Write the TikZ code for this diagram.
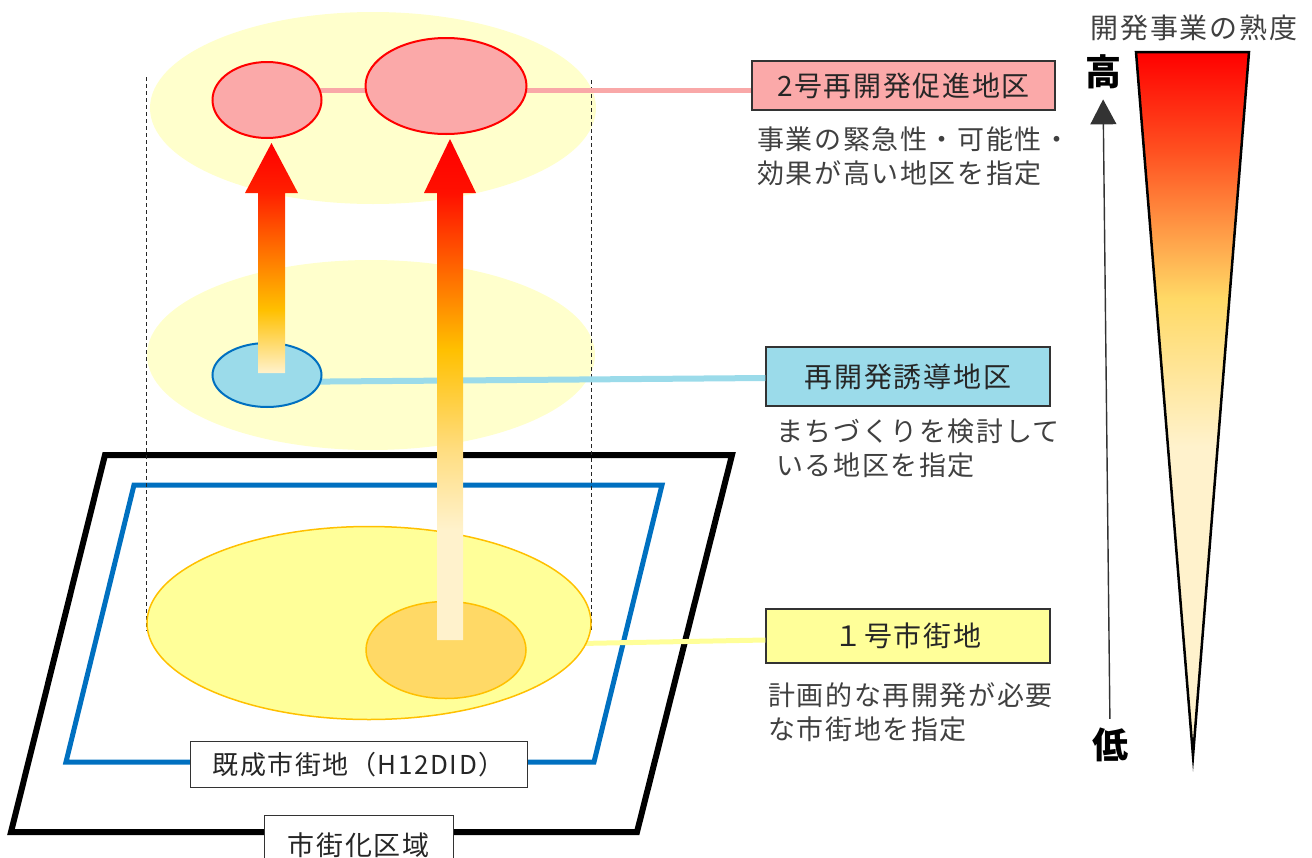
\documentclass[tikz,border=0pt]{standalone}
\usepackage{fontspec}
\setmainfont{Noto Sans CJK JP}[LetterSpace=6]
\usetikzlibrary{shapes.geometric,arrows.meta}
\definecolor{paleY}{HTML}{FFFFCC}
\definecolor{pinkF}{HTML}{FBA9A9}
\definecolor{pinkL}{HTML}{F9A8A8}
\definecolor{blueF}{HTML}{9BDBEA}
\definecolor{blueS}{HTML}{0070C0}
\definecolor{yelF}{HTML}{FFFF99}
\definecolor{orF}{HTML}{FFD966}
\definecolor{orS}{HTML}{FFC000}
\definecolor{cream}{HTML}{FFF2CC}
\definecolor{gold}{HTML}{FFC000}
\definecolor{orng}{HTML}{FF7000}
\definecolor{redA}{HTML}{FF2000}
\definecolor{redB}{HTML}{FF1000}
\definecolor{redC}{HTML}{FF5000}
\definecolor{lgold}{HTML}{FFDD80}
\definecolor{tri1}{HTML}{FF5020}
\definecolor{txtgray}{HTML}{404040}
\definecolor{txtdark}{HTML}{262626}
\definecolor{boxline}{HTML}{333333}
\pgfdeclareverticalshading{arrowL}{100bp}{color(0bp)=(cream); color(25bp)=(cream); color(38.7bp)=(gold); color(51.7bp)=(orng); color(64.2bp)=(redA); color(75bp)=(red); color(100bp)=(red)}
\pgfdeclareverticalshading{arrowR}{100bp}{color(0bp)=(cream); color(25bp)=(cream); color(36bp)=(cream); color(44bp)=(lgold); color(54bp)=(gold); color(64bp)=(redC); color(69.6bp)=(redB); color(75bp)=(red); color(100bp)=(red)}
\pgfdeclareverticalshading{triS}{100bp}{color(0bp)=(cream); color(25bp)=(cream); color(47bp)=(cream); color(57.5bp)=(orF); color(68bp)=(tri1); color(75bp)=(red); color(100bp)=(red)}
\tikzset{
  zone/.style={ellipse, inner sep=0, draw=none, fill=paleY},
  area/.style={ellipse, inner sep=0, line width=1.5pt},
  labbox/.style={draw=boxline, line width=1.3pt, inner sep=0, text=txtdark, font=\fontsize{28}{30}\selectfont},
  desc/.style={anchor=north west, inner sep=0, align=left, text=txtgray, font=\fontsize{27}{34}\selectfont},
  basebox/.style={draw=boxline, line width=1pt, fill=white, inner sep=0, text=txtdark, font=\fontsize{26}{28}\selectfont},
  dashv/.style={dash pattern=on 4pt off 3pt, line width=0.9pt, black!85},
  conn/.style={line width=5pt},
}
\begin{document}
\begin{tikzpicture}[x=1pt,y=-1pt]
\useasboundingbox (0,0) rectangle (1312,857);
\clip (0,0) rectangle (1312,857);
% pale zones
\node[zone, minimum width=446pt, minimum height=192pt] (ztop) at (373,108) {};
\node[zone, minimum width=448pt, minimum height=190pt] (zmid) at (371,355) {};
% parallelograms
\draw[line width=6pt, line join=miter] (105,455) -- (732,455) -- (637,832) -- (11,832) -- cycle;
\draw[line width=5pt, blueS, line join=miter] (134,485) -- (662,485) -- (594,762) -- (66,762) -- cycle;
% dashed guides
\draw[dashv] (146,77) -- (146,631);
\draw[dashv] (591,80) -- (591,631);
% right boxes
\node[labbox, fill=pinkF, minimum width=303pt, minimum height=49pt] (b2) at (903.5,85.5) {2号再開発促進地区};
\node[labbox, fill=blueF, minimum width=284pt, minimum height=59pt] (b3) at (908,376.5) {再開発誘導地区};
\node[labbox, fill=yelF, minimum width=284pt, minimum height=54pt] (b1) at (908,636) {１号市街地};
% connector lines
\coordinate (prow) at (267,90);
\coordinate (brow) at (267,382);
\coordinate (yrow) at (500,645);
\draw[conn, pinkL] (prow) -- (prow -| b2.west);
\draw[conn, blueF, line width=6pt] (brow) -- ([yshift=-1.5pt]b3.west);
\draw[conn, yelF] (yrow) -- ([yshift=-4pt]b1.west);
% areas
\node[area, fill=yelF, draw=orS, minimum width=444pt, minimum height=193pt] (ybig) at (369,623) {};
\node[area, fill=orF, draw=orS, minimum width=160pt, minimum height=97pt] (yor) at (446,650) {};
\node[area, fill=pinkF, draw=red, line width=2pt, minimum width=109pt, minimum height=76pt] (spink) at (267,100) {};
\node[area, fill=pinkF, draw=red, line width=2pt, minimum width=161pt, minimum height=96pt] (bpink) at (446,86) {};
\node[area, fill=blueF, draw=blueS, line width=2pt, minimum width=109pt, minimum height=64pt] (bell) at (267,375) {};
% block arrows
\shade[shading=arrowL] (258,373) -- (258,193) -- (245,193) -- (271.5,143) -- (298,193) -- (285,193) -- (285,373) -- cycle;
\shade[shading=arrowR] (437,640) -- (437,193) -- (424,193) -- (450,139) -- (476,193) -- (463,193) -- (463,640) -- cycle;
% base labels
\node[basebox, minimum width=337pt, minimum height=46pt] (kisei) at (358.5,764.5) {既成市街地（H12DID）};
\node[basebox, minimum width=189pt, minimum height=60pt, font=\fontsize{27}{30}\selectfont] (shigai) at (358.5,845) {市街化区域};
% descriptions
\node[desc] (d2) at (757,127) {事業の緊急性・可能性・\\効果が高い地区を指定};
\node[desc] (d3) at (776,419) {まちづくりを検討して\\いる地区を指定};
\node[desc] (d1) at (768,682) {計画的な再開発が必要\\な市街地を指定};
% maturity scale
\shade[shading=triS] (1136,52) -- (1249,52) -- (1193,756) -- cycle;
\draw[line width=2.5pt, line join=miter, miter limit=30] (1136,52) -- (1249,52) -- (1193,756) -- cycle;
\node[inner sep=0, text=txtgray, font=\fontsize{28}{30}\selectfont] (title) at (1194,28) {開発事業の熟度};
\node[inner sep=0, font=\fontsize{36}{38}\selectfont\bfseries] (hi) at (1103,72) {高};
\node[inner sep=0, font=\fontsize{36}{38}\selectfont\bfseries] (lo) at (1110,745) {低};
\draw[line width=1.4pt, black!80, -{Triangle[width=26pt,length=25pt]}, shorten <=9pt, shorten >=10pt] (lo.north) -- (hi.south);
\end{tikzpicture}
\end{document}
